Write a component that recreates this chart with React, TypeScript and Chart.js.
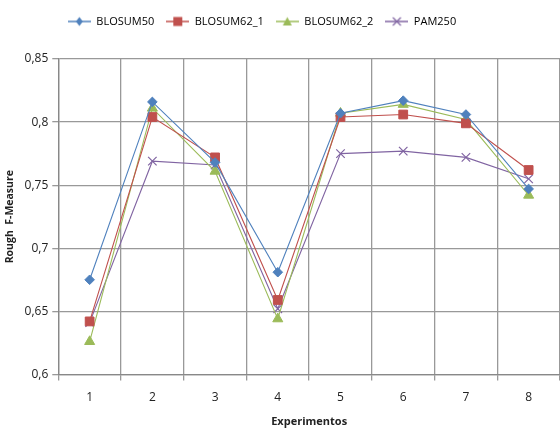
import React, { useEffect, useRef } from "react";
import { Chart, registerables } from "chart.js";

Chart.register(...registerables);

const categories = ["1", "2", "3", "4", "5", "6", "7", "8"];
const seriesNames = ["BLOSUM50", "BLOSUM62_1", "BLOSUM62_2", "PAM250"];
const blosum50 = [0.675, 0.816, 0.768, 0.681, 0.807, 0.817, 0.806, 0.747];
const blosum62_1 = [0.642, 0.804, 0.772, 0.659, 0.804, 0.806, 0.799, 0.762];
const blosum62_2 = [0.626, 0.811, 0.761, 0.644, 0.807, 0.814, 0.802, 0.742];
const pam250 = [0.641, 0.769, 0.766, 0.652, 0.775, 0.777, 0.772, 0.755];
const yTicks = [0.6, 0.65, 0.7, 0.75, 0.8, 0.85];

const colors = ["#4F81BD", "#C0504D", "#9BBB59", "#8064A2"];
const styles = ["rectRot", "rect", "triangle", "crossRot"];
const radii = [4.8, 6.2, 5.8, 6];

const ICON_W = 23;
const ICON_H = 12;

function makeLegendIcon(color: string, style: string): HTMLCanvasElement {
  const c = document.createElement("canvas");
  c.width = ICON_W; c.height = ICON_H;
  const ctx = c.getContext("2d")!;
  ctx.strokeStyle = color; ctx.fillStyle = color; ctx.lineWidth = 1.5;
  ctx.beginPath(); ctx.moveTo(0, ICON_H / 2); ctx.lineTo(ICON_W, ICON_H / 2); ctx.stroke();
  const cx = ICON_W / 2, cy = ICON_H / 2;
  ctx.beginPath();
  if (style === "rectRot") {
    ctx.moveTo(cx, cy - 4.5); ctx.lineTo(cx + 3.5, cy); ctx.lineTo(cx, cy + 4.5); ctx.lineTo(cx - 3.5, cy); ctx.closePath(); ctx.fill();
  } else if (style === "rect") {
    ctx.rect(cx - 4.5, cy - 4.5, 9, 9); ctx.fill();
  } else if (style === "triangle") {
    ctx.moveTo(cx, cy - 4.5); ctx.lineTo(cx + 4.5, cy + 4); ctx.lineTo(cx - 4.5, cy + 4); ctx.closePath(); ctx.fill();
  } else {
    ctx.lineWidth = 1.2;
    ctx.moveTo(cx - 4, cy - 4); ctx.lineTo(cx + 4, cy + 4); ctx.moveTo(cx + 4, cy - 4); ctx.lineTo(cx - 4, cy + 4); ctx.stroke();
  }
  return c;
}

const legendMargin = {
  id: "legendMargin",
  beforeInit(chart: any) {
    const legend = chart.legend;
    if (!legend) return;
    const origFit = legend.fit;
    legend.fit = function () {
      origFit.bind(this)();
      this.height += 22;
    };
  },
  afterLayout(chart: any) {
    const legend = chart.legend;
    if (legend) legend.right -= 40;
  },
};

export default function App() {
  const ref = useRef<HTMLCanvasElement>(null);
  useEffect(() => {
    document.body.style.margin = "0";
    const icons = colors.map((c, i) => makeLegendIcon(c, styles[i]));
    const allData = [blosum50, blosum62_1, blosum62_2, pam250];
    const chart = new Chart(ref.current!, {
      type: "line",
      data: {
        labels: categories,
        datasets: allData.map((d, i) => ({
          label: seriesNames[i],
          data: d,
          borderColor: colors[i],
          backgroundColor: colors[i],
          borderWidth: 1.1,
          pointStyle: styles[i] as any,
          pointRadius: radii[i],
          pointBorderWidth: i === 3 ? 1.2 : 1,
          pointBorderColor: colors[i],
          pointBackgroundColor: colors[i],
          tension: 0,
          clip: false as any,
        })),
      },
      plugins: [legendMargin],
      options: {
        animation: false,
        responsive: false,
        layout: { autoPadding: false, padding: { left: 4, right: 0, top: 4, bottom: 0 } },
        plugins: {
          legend: {
            position: "top",
            labels: {
              usePointStyle: true,
              pointStyleWidth: ICON_W,
              boxHeight: 12,
              padding: 12,
              font: { family: "Open Sans", size: 11 },
              color: "#222",
              generateLabels: (ch: any) =>
                ch.data.datasets.map((ds: any, i: number) => ({
                  text: ds.label,
                  pointStyle: icons[i],
                  fillStyle: colors[i],
                  strokeStyle: colors[i],
                  lineWidth: 0,
                  datasetIndex: i,
                  hidden: false,
                })),
            },
          },
          tooltip: { enabled: false },
        },
        scales: {
          x: {
            offset: true,
            grid: { offset: true, color: "#999", lineWidth: 1.3, tickLength: 6, drawTicks: true },
            border: { color: "#888", width: 1.3 },
            ticks: { font: { family: "Open Sans", size: 12 }, color: "#222", padding: 10 },
            title: { display: true, text: "Experimentos", font: { family: "Open Sans", size: 11, weight: "bold" }, color: "#222", padding: { top: 0, bottom: 0 } },
          },
          y: {
            min: 0.6,
            max: 0.85,
            afterBuildTicks: (axis: any) => { axis.ticks = yTicks.map((v) => ({ value: v })); },
            grid: { color: "#999", lineWidth: 1.3, tickLength: 6 },
            border: { color: "#888", width: 1.3 },
            ticks: {
              font: { family: "Open Sans", size: 12 },
              color: "#222",
              padding: 4,
              callback: (v: any) => String(Number(Number(v).toFixed(2))).replace(".", ","),
            },
            title: { display: true, text: "Rough  F-Measure", font: { family: "Open Sans", size: 10.5, weight: "bold" }, color: "#222", padding: { top: 0, bottom: 4 } },
          },
        },
      },
    });
    return () => chart.destroy();
  }, []);
  return (
    <div style={{ width: 560, height: 428, background: "#fff" }}>
      <canvas ref={ref} width={560} height={428} style={{ width: 560, height: 428 }} />
    </div>
  );
}
